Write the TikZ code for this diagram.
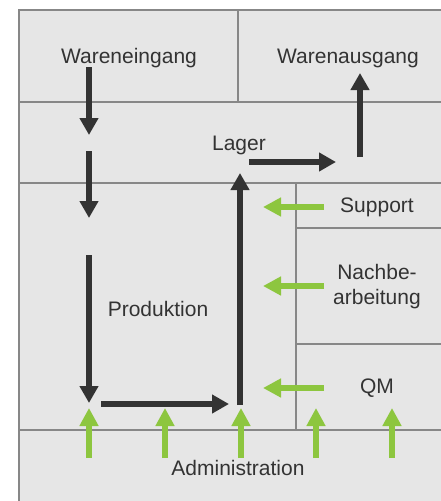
\documentclass[tikz,border=0pt]{standalone}
\usepackage{fontspec}
\setmainfont{Liberation Sans}
\usetikzlibrary{arrows.meta}
\definecolor{boxfill}{HTML}{E6E6E6}
\definecolor{boxline}{HTML}{878787}
\definecolor{darkarrow}{HTML}{333333}
\definecolor{greenarrow}{HTML}{8DC63F}
\definecolor{txt}{HTML}{333333}
\tikzset{
  wall/.style={draw=boxline, line width=2pt},
  flow/.style={draw=darkarrow, line width=6pt, -{Triangle[width=18pt,length=17pt]}},
  help/.style={draw=greenarrow, line width=6pt, -{Triangle[width=18pt,length=18pt]}},
  label/.style={text=txt, font=\fontsize{21}{25}\selectfont, align=center, inner sep=0pt},
}
\begin{document}
\begin{tikzpicture}[x=1pt,y=-1pt]
\useasboundingbox (0,0) rectangle (441,501);
\clip (0,0) rectangle (441,501);
\fill[white] (0,0) rectangle (441,501);
% areas
\fill[boxfill] (19,10) rectangle (450,510);
\draw[wall] (19,510) -- (19,10) -- (450,10);
\draw[wall] (238,10) -- (238,102);
\draw[wall] (19,102) -- (450,102);
\draw[wall] (19,183) -- (450,183);
\draw[wall] (296,183) -- (296,430);
\draw[wall] (296,228) -- (450,228);
\draw[wall] (296,344) -- (450,344);
\draw[wall] (19,430) -- (450,430);
% labels
\node[label] (we) at (129,58) {Wareneingang};
\node[label] (wa) at (348,58) {Warenausgang};
\node[label] (lager) at (239,145) {Lager};
\node[label] (support) at (377,207) {Support};
\node[label] (nach) at (377,287) {Nachbe-\\arbeitung};
\node[label] (prod) at (158,309) {Produktion};
\node[label] (qm) at (377,388) {QM};
\node[label] (admin) at (238,468) {Administration};
% dark flow coordinates
\coordinate (a1s) at (89,67);  \coordinate (a1e) at (89,135);
\coordinate (a2s) at (89,151); \coordinate (a2e) at (89,218);
\coordinate (a3s) at (89,255); \coordinate (a3e) at (89,403);
\coordinate (a4s) at (101,404); \coordinate (a4e) at (229,404);
\coordinate (a5s) at (240,405); \coordinate (a5e) at (240,173);
\coordinate (a6s) at (249,162); \coordinate (a6e) at (336,162);
\coordinate (a7s) at (360,157); \coordinate (a7e) at (360,73);
\draw[flow] (a1s) -- (a1e);
\draw[flow] (a2s) -- (a2e);
\draw[flow] (a3s) -- (a3e);
\draw[flow] (a4s) -- (a4e);
\draw[flow] (a5s) -- (a5e);
\draw[flow] (a6s) -- (a6e);
\draw[flow] (a7s) -- (a7e);
% green arrows: left
\coordinate (g1s) at (324,207); \coordinate (g1e) at (263,207);
\coordinate (g2s) at (324,286); \coordinate (g2e) at (263,286);
\coordinate (g3s) at (324,388); \coordinate (g3e) at (263,388);
\draw[help] (g1s) -- (g1e);
\draw[help] (g2s) -- (g2e);
\draw[help] (g3s) -- (g3e);
% green arrows: up
\foreach \x [count=\i] in {89,165,241,316,392}{
  \coordinate (u\i s) at (\x,458);
  \coordinate (u\i e) at (\x,408);
  \draw[help] (u\i s) -- (u\i e);
}
\end{tikzpicture}
\end{document}
